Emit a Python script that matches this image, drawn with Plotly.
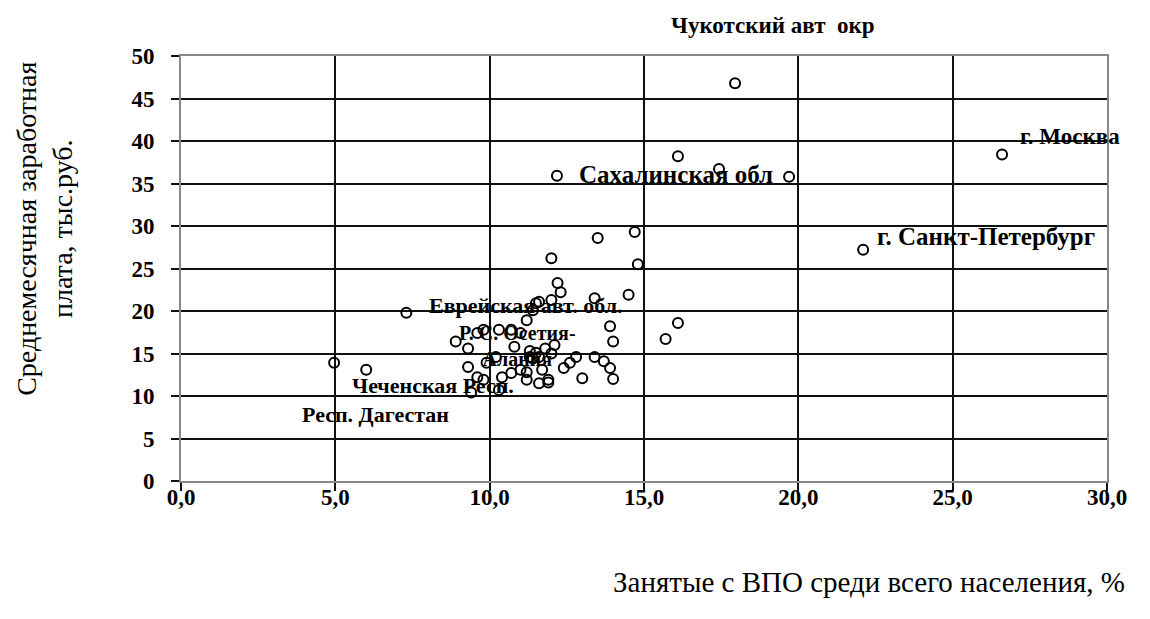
import plotly.graph_objects as go

# Share of employed with higher education among total population, %
x_vals = [17.95, 16.1, 17.43, 12.18, 19.7, 26.6, 22.1, 13.5, 14.7, 14.8,
          12.0, 12.2, 12.3, 13.4, 14.5, 12.0, 16.1, 15.7, 13.9, 14.0,
          13.4, 13.7, 13.9, 14.0, 13.0, 11.6, 11.9, 12.8, 12.6, 12.4,
          11.2, 11.5, 11.6, 7.3, 8.9, 9.3, 9.8, 9.6, 9.3, 9.4,
          9.6, 9.8, 9.9, 10.2, 10.4, 10.7, 10.8, 11.0, 10.7, 10.3,
          11.2, 11.4, 11.3, 11.6, 11.7, 11.9, 11.0, 11.2, 10.3, 6.0,
          4.96, 11.5, 11.8, 12.1, 11.3, 12.0, 11.4]
# Average monthly wage, thousand rubles
y_vals = [46.8, 38.2, 36.7, 35.9, 35.8, 38.4, 27.2, 28.6, 29.3, 25.5,
          26.2, 23.3, 22.2, 21.5, 21.9, 21.3, 18.6, 16.7, 18.2, 16.4,
          14.6, 14.1, 13.3, 12.0, 12.1, 11.5, 11.6, 14.6, 13.9, 13.3,
          12.8, 20.9, 21.1, 19.8, 16.4, 15.6, 17.8, 17.4, 13.4, 10.4,
          12.2, 11.9, 13.9, 14.6, 12.2, 12.7, 15.8, 17.4, 17.8, 17.8,
          18.9, 20.1, 14.6, 14.6, 13.1, 11.9, 13.1, 11.9, 10.7, 13.1,
          13.9, 15.1, 15.6, 16.0, 15.3, 15.0, 14.4]

# Labelled regions
label_names = ["Чукотский авт  окр", "Сахалинская обл", "г. Москва",
               "г. Санкт-Петербург", "Еврейская авт. обл.",
               "Р. С. Осетия-<br>Алания", "Чеченская Респ.", "Респ. Дагестан"]
label_x = [17.95, 12.18, 26.6, 22.1, 7.3, 8.9, 6.0, 4.96]
label_y = [46.8, 35.9, 38.4, 27.2, 19.8, 16.4, 13.1, 13.9]

x_ticks = [0, 5, 10, 15, 20, 25, 30]
y_ticks = [0, 5, 10, 15, 20, 25, 30, 35, 40, 45, 50]

x_title = "Занятые с ВПО среди всего населения, %"
y_title = "Среднемесячная заработная<br>плата, тыс.руб."

FONT = "Liberation Serif, Times New Roman, serif"

fig = go.Figure()
fig.add_trace(go.Scatter(
    x=x_vals, y=y_vals, mode="markers",
    marker=dict(symbol="circle-open", size=10, color="black",
                line=dict(width=2, color="#222")),
    hoverinfo="x+y", showlegend=False,
))

# (xshift, yshift, xanchor, font size)
styles = [(38, 58, "center", 23), (21, 1, "left", 25), (17, 18, "left", 23),
          (13, 13, "left", 25), (22, 7, "left", 22), (62, -4, "center", 20),
          (-15, -16, "left", 22), (41, -52, "center", 22)]
for name, lx, ly, (xs, ys, xa, fs) in zip(label_names, label_x, label_y, styles):
    fig.add_annotation(x=lx, y=ly, text=name, showarrow=False,
                       xshift=xs, yshift=ys, xanchor=xa, yanchor="middle",
                       borderpad=0,
                       font=dict(family=FONT, size=fs, color="black", weight="bold"))

fig.add_annotation(x=-0.147, y=0.593, xref="paper", yref="paper",
                   text=y_title, textangle=-90, showarrow=False,
                   xanchor="center", yanchor="middle",
                   font=dict(family=FONT, size=28, color="black"))
fig.add_annotation(x=0.743, y=-0.238, xref="paper", yref="paper",
                   text=x_title, showarrow=False,
                   xanchor="center", yanchor="middle",
                   font=dict(family=FONT, size=29, color="black"))

fig.update_layout(
    width=1150, height=619,
    margin=dict(l=173, r=51, t=48, b=146),
    paper_bgcolor="white", plot_bgcolor="white",
    separators=", ",
    font=dict(family=FONT, color="black"),
)
fig.update_xaxes(range=[0, 30], tickvals=x_ticks, tickformat=".1f",
                 showgrid=True, gridcolor="#111", gridwidth=2,
                 zeroline=False, showline=True, linecolor="#888", linewidth=2,
                 mirror=True, ticks="outside", ticklen=8, tickcolor="#111",
                 tickwidth=2, ticklabelstandoff=-14,
                 tickfont=dict(family=FONT, size=23, color="black", weight="bold"))
fig.update_yaxes(range=[0, 50], tickvals=y_ticks,
                 showgrid=True, gridcolor="#111", gridwidth=2,
                 zeroline=False, showline=True, linecolor="#888", linewidth=2,
                 mirror=True, ticks="outside", ticklen=8, tickcolor="#111",
                 tickwidth=2, ticklabelstandoff=12,
                 tickfont=dict(family=FONT, size=23, color="black", weight="bold"))

fig.write_html("out.html")
